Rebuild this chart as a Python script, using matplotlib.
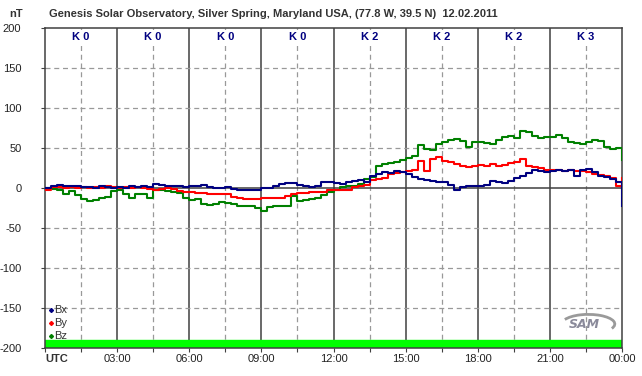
import numpy as np
import matplotlib
matplotlib.use("Agg")
import matplotlib.pyplot as plt
from matplotlib.patches import Arc

# magnetometer readings, one value every 15 minutes (nT)
hours = np.arange(0, 24.01, 0.25)

bx = [0, 3, 4, 2, 2, 3, 1, 1, 0, 2, 1, 0, 1, 0, 2, 1, 2, 1, 5, 4, 2, 3, 3, 1,
      2, 3, 4, 1, 0, 0, 1, -1, -2, -3, -2, -3, 0, 0, 2, 5, 6, 6, 4, 2, 1, 2, 7, 8,
      6, 5, 7, 9, 10, 8, 15, 18, 20, 19, 21, 20, 18, 14, 11, 10, 9, 8, 7, 4, -2, 1, 3, 2,
      2, 4, 9, 8, 6, 9, 13, 15, 19, 22, 21, 20, 21, 22, 21, 22, 15, 23, 24, 20, 15, 14, 11, 8,
      -23]
by = [-3, 1, 1, 0, 1, 0, 1, 0, 1, 0, 3, 1, 0, 1, 0, 1, 0, -1, -2, -1, 0, -1, -4, -5,
      -5, -6, -6, -7, -7, -8, -8, -11, -13, -14, -14, -14, -13, -12, -12, -12, -10, -7, -6, -6, -5, -5, -5, -3,
      -3, -3, -2, 1, 2, 4, 10, 11, 12, 18, 19, 20, 21, 22, 34, 21, 36, 39, 34, 32, 30, 27, 26, 27,
      29, 28, 30, 28, 29, 31, 32, 36, 28, 26, 25, 23, 22, 23, 21, 22, 21, 21, 20, 17, 16, 15, 12, 2,
      12]
bz = [0, -1, -3, -7, -4, -9, -14, -16, -15, -12, -11, -4, -2, -7, -12, -7, -8, -12, -3, -3, -4, -5, -6, -12,
      -15, -14, -20, -21, -20, -18, -19, -20, -22, -23, -22, -25, -29, -24, -23, -23, -22, -10, -16, -15, -14, -13, -9, -5,
      -2, 1, 2, 3, 5, 11, 14, 28, 30, 31, 33, 35, 37, 40, 54, 49, 47, 55, 57, 60, 61, 59, 51, 57,
      58, 56, 55, 60, 64, 65, 63, 71, 70, 65, 63, 64, 64, 66, 62, 57, 56, 55, 57, 60, 59, 51, 49, 50,
      35]

k_index = [0, 0, 0, 0, 2, 2, 2, 3]
hour_labels = ["UTC", "03:00", "06:00", "09:00", "12:00", "15:00", "18:00", "21:00", "00:00"]

fig = plt.figure(figsize=(6.42, 3.76), dpi=100)
ax = fig.add_axes([45 / 642, 28 / 376, 577 / 642, 320 / 376])

ax.set_xlim(0, 24)
ax.set_ylim(-200, 200)

# grid
for h in np.arange(1.5, 24, 3):
    ax.axvline(h, color="#999999", ls=(0, (4, 3)), lw=0.9, zorder=1)
for h in np.arange(3, 24, 3):
    ax.axvline(h, color="#404040", lw=1.1, zorder=1)
for v in [-150, -100, -50, 50, 100, 150]:
    ax.axhline(v, color="#999999", ls=(0, (4, 3)), lw=0.9, zorder=1)
ax.axhline(0, color="#404040", lw=1.1, zorder=1)

# green status bar at the bottom
ax.axhspan(-200, -190, color="#00ff00", zorder=2)

ax.plot(hours, bz, color="#008000", lw=1.5, drawstyle="steps-post", zorder=3)
ax.plot(hours, by, color="#ff0000", lw=1.5, drawstyle="steps-post", zorder=4)
ax.plot(hours, bx, color="#000080", lw=1.5, drawstyle="steps-post", zorder=5)

ax.set_yticks(np.arange(-200, 201, 50))
ax.set_yticklabels([str(v) for v in range(-200, 201, 50)], fontsize=8,
                   family="Liberation Sans", color="#222222")
ax.set_xticks(np.arange(0, 24.01, 1.5))
ax.set_xticklabels([])
ax.tick_params(axis="both", direction="out", length=3, color="#404040")
ax.tick_params(axis="y", pad=14)
for i, lab in enumerate(hour_labels):
    if i == 0:
        ax.text(0, -207, lab, fontsize=8, fontweight="bold", family="Liberation Sans",
                ha="left", va="top", color="#333333")
    else:
        ax.text(i * 3, -207, lab, fontsize=8, family="Liberation Sans",
                ha="center", va="top", color="#222222")

for s in ax.spines.values():
    s.set_color("#404040")
    s.set_linewidth(1.1)

# K index labels
for i, k in enumerate(k_index):
    ax.text(i * 3 + 1.5, 189, f"K {k}", fontsize=8, fontweight="bold", family="Liberation Sans",
            color="#000080", ha="center", va="center", zorder=6,
            bbox=dict(facecolor="white", edgecolor="none", pad=1.5))

# legend
for name, col, y in [("Bx", "#000080", -152), ("By", "#ff0000", -169), ("Bz", "#008000", -185)]:
    ax.plot([0.24], [y], marker="D", ms=2, color=col, zorder=6)
    ax.text(0.38, y, name, fontsize=8, family="Liberation Sans", color="#333333",
            va="center", ha="left")

# SAM logo
ax.text(22.45, -170, "SAM", fontsize=9, style="italic", color="#8a8a9a", ha="center", va="center",
        family="DejaVu Sans", fontweight="bold")
ax.add_patch(Arc((22.6, -170), 2.2, 24, theta1=-80, theta2=100, color="#9a9a9a", lw=2))

fig.text(16 / 642, 1 - 14 / 376, "nT", fontsize=8, fontweight="bold", family="Liberation Sans",
         ha="center", va="center", color="#333333")
fig.text(273 / 642, 1 - 14 / 376,
         "Genesis Solar Observatory, Silver Spring, Maryland USA, (77.8 W, 39.5 N)  12.02.2011",
         fontsize=8, fontweight="bold", family="Liberation Sans",
         ha="center", va="center", color="#333333")

fig.savefig("out.png", dpi=100)
